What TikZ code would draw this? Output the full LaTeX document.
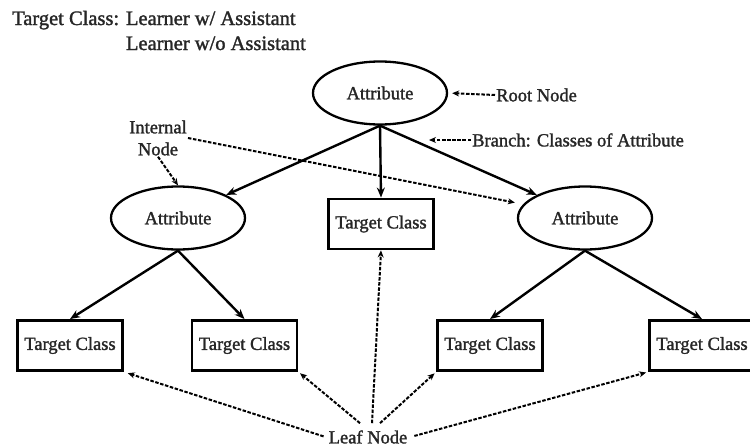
\documentclass[tikz,border=0pt]{standalone}
\usepackage{fontspec}
\setmainfont{Liberation Serif}
\newfontfamily\thkfont{Liberation Serif}[FakeBold=1.5]
\usetikzlibrary{shapes.geometric,arrows.meta}
\begin{document}
\begin{tikzpicture}[x=1pt,y=-1pt,
 titletext/.style={font=\thkfont\fontsize{20.5}{24}\selectfont, inner sep=0pt, text=black!85},
 lbl/.style={font=\thkfont\fontsize{18.5}{22}\selectfont, inner sep=1pt, text=black!85},
 attr/.style={ellipse, draw, line width=2.3pt, minimum width=134pt, minimum height=63pt, font=\thkfont\fontsize{18.5}{22}\selectfont, inner sep=0pt, text=black!85},
 tbox/.style={rectangle, draw, line width=2.9pt, minimum width=105pt, minimum height=50pt, font=\thkfont\fontsize{18.5}{22}\selectfont, inner sep=0pt, text=black!85},
 branch/.style={line width=2.4pt, -{Stealth[length=10pt,width=8pt]}},
 pointer/.style={line width=2pt, dash pattern=on 3.5pt off 1.6pt, -{Stealth[length=7pt,width=6pt]}}]
\clip (0,0) rectangle (750,447);
\fill[white] (0,0) rectangle (750,447);

% title
\node[titletext, anchor=base west] (t1) at (12,25) {Target Class: Learner w/ Assistant};
\node[titletext, anchor=base west] (t2) at (12,50) {\phantom{Target Class: }Learner w/o Assistant};

% nodes
\node[attr] (root) at (380,93) {Attribute};
\node[attr] (A1) at (178,218) {Attribute};
\node[attr] (A2) at (585,218) {Attribute};
\node[tbox] (C) at (381,224) {Target Class};
\node[tbox] (L1) at (70,345.5) {Target Class};
\node[tbox] (L2) at (244.5,345.5) {Target Class};
\node[tbox] (L3) at (490,345.5) {Target Class};
\node[tbox] (L4) at (702,345.5) {Target Class};

% labels
\node[lbl, anchor=west] (rootlbl) at (495,95) {Root Node};
\node[lbl, anchor=west] (brlbl) at (471,140) {Branch: Classes of Attribute};
\node[lbl, align=center] (internal) at (158,138) {Internal\\Node};
\node[lbl, inner sep=3pt] (leaf) at (368,437) {Leaf Node};
\coordinate (brpt) at (429,140);

% branches
\draw[branch] (root.south) -- (A1.north east);
\draw[branch] (root.south) -- (C.north);
\draw[branch] (root.south) -- (A2.north west);
\draw[branch] (A1.south) -- (L1.north);
\draw[branch] (A1.south) -- (L2.north);
\draw[branch] (A2.south) -- (L3.north);
\draw[branch] (A2.south) -- (L4.north);

% pointers
\draw[pointer, shorten >=4pt] (rootlbl.west) -- (root.east);
\draw[pointer] (brlbl.west) -- (brpt);
\draw[pointer] (internal.south) -- (A1.north);
\draw[pointer, shorten >=2pt] (internal.east) -- ([yshift=15pt]A2.west);
\draw[pointer, shorten >=4pt, shorten <=2pt] (leaf.west) -- (L1.south east);
\draw[pointer, shorten >=2pt] ([xshift=-8pt,yshift=4pt]leaf.north) -- (L2.south east);
\draw[pointer] ([xshift=4pt,yshift=4pt]leaf.north) -- (C.south);
\draw[pointer, shorten >=2pt] ([xshift=12pt,yshift=4pt]leaf.north) -- (L3.south west);
\draw[pointer, shorten >=2pt, shorten <=4pt] (leaf.east) -- (L4.south west);
\end{tikzpicture}
\end{document}
